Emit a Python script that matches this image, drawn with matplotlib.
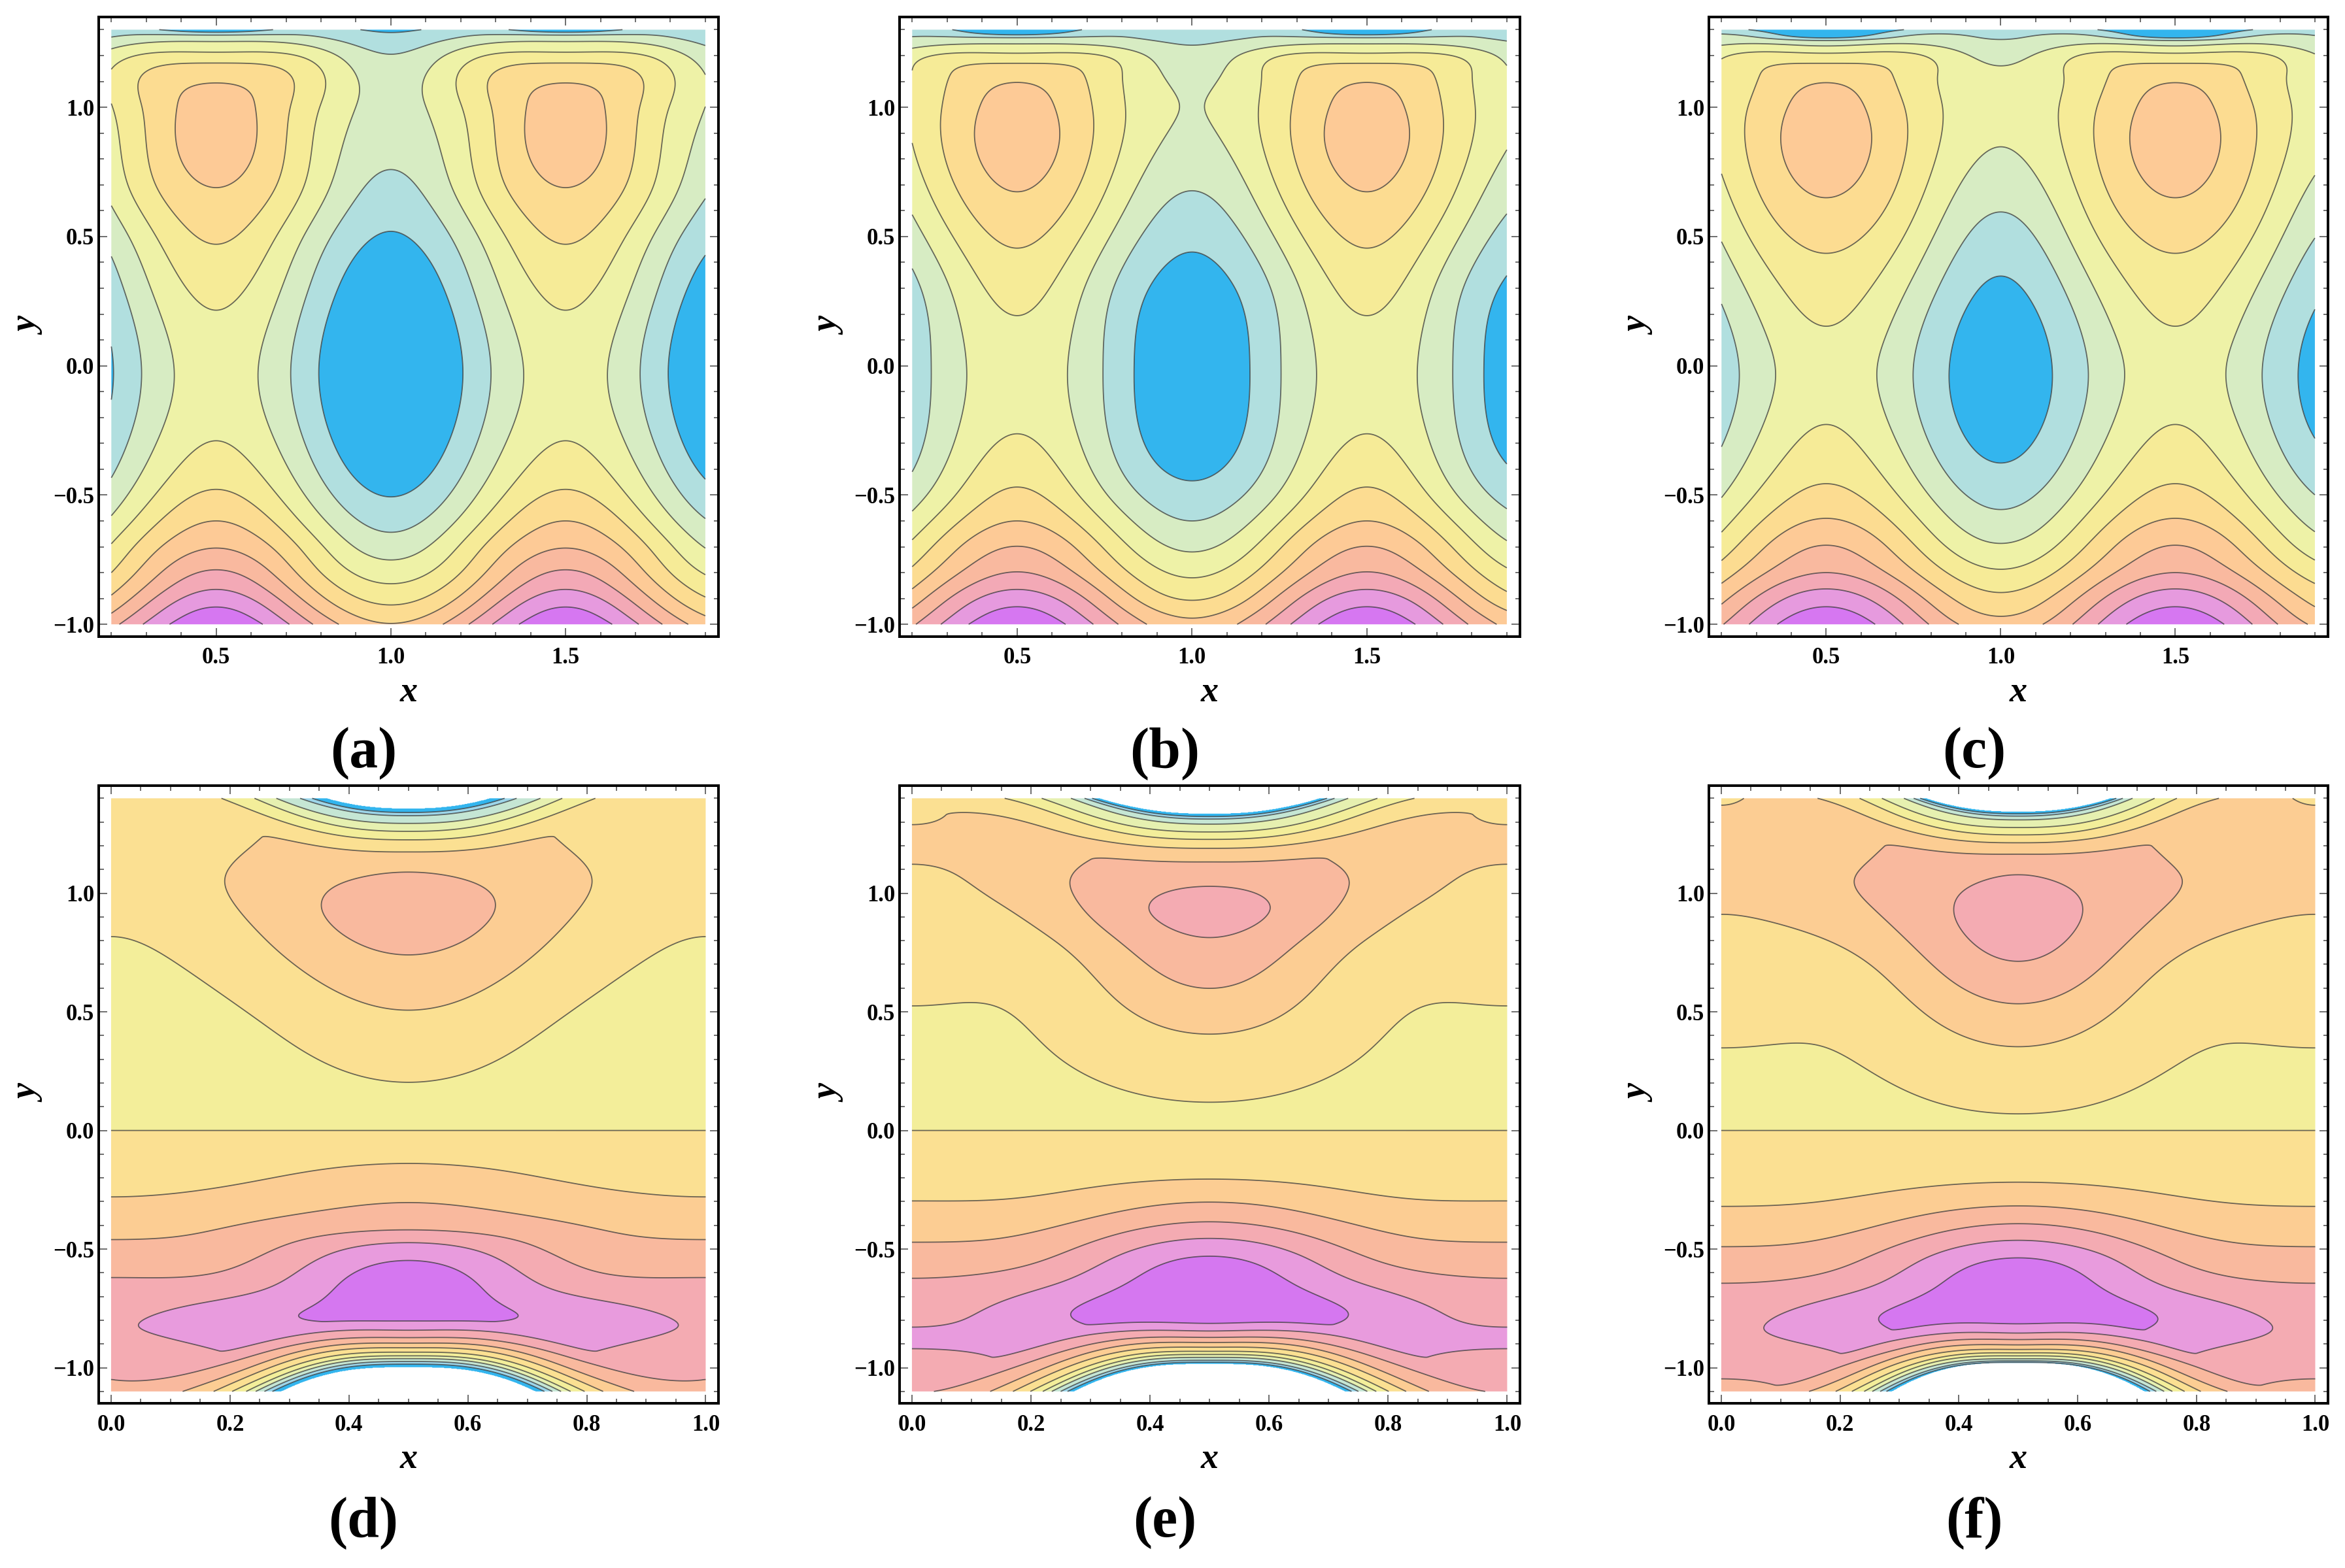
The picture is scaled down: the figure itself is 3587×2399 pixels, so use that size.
import numpy as np
import matplotlib
matplotlib.use("Agg")
import matplotlib.pyplot as plt
from matplotlib.ticker import MultipleLocator, FixedLocator, FuncFormatter

# ---------------- data: contour-level values read along columns ----------------
# level units: region k lies between contour k and k+1 (k = 0..10)
# top row: x in [0.2, 1.9], y in [-1, 1.3]; columns at x=0.5 (mid), x=1.0 (edge), x=0.75 (qtr)
a_mid = [(-1.0, 10.8), (-0.933, 10), (-0.865, 9), (-0.789, 8), (-0.705, 7), (-0.60, 6), (-0.478, 5),
         (-0.29, 4), (0.0, 3.55), (0.215, 4), (0.47, 5), (0.689, 6), (0.90, 6.6), (1.0, 6.45),
         (1.094, 6), (1.171, 5), (1.213, 4), (1.254, 3), (1.279, 2), (1.29, 1), (1.30, 0.4)]
a_edge = [(-1.0, 6.05), (-0.925, 5), (-0.843, 4), (-0.751, 3), (-0.644, 2), (-0.507, 1), (0.0, -0.46),
          (0.52, 1), (0.759, 2), (0.98, 2.6), (1.205, 2), (1.289, 1), (1.30, 0.85)]
a_qtr = [(-1.0, 8.4), (-0.9, 6.9), (-0.8, 5.7), (-0.7, 4.8), (-0.6, 3.85), (-0.5, 3.05), (-0.3, 2.05),
         (0.0, 1.55), (0.3, 2.2), (0.5, 3.0), (0.69, 4.0), (1.0, 4.55), (1.195, 3.95), (1.241, 3.0),
         (1.279, 2.0), (1.30, 1.3)]

b_mid = [(-1.0, 10.8), (-0.932, 10), (-0.865, 9), (-0.797, 8), (-0.698, 7), (-0.60, 6), (-0.469, 5),
         (-0.263, 4), (0.0, 3.6), (0.194, 4), (0.455, 5), (0.673, 6), (0.88, 6.55), (1.0, 6.4),
         (1.096, 6), (1.170, 5), (1.209, 4), (1.245, 3), (1.269, 2), (1.28, 1), (1.30, 0.1)]
b_edge = [(-1.0, 6.3), (-0.976, 6), (-0.907, 5), (-0.82, 4), (-0.72, 3), (-0.60, 2), (-0.445, 1),
          (0.0, 0.0), (0.44, 1), (0.677, 2), (1.03, 2.95), (1.24, 2), (1.30, 1.4)]
b_qtr = [(-1.0, 8.55), (-0.9, 7.2), (-0.8, 5.9), (-0.7, 4.9), (-0.5, 3.1), (-0.3, 2.2), (0.0, 1.95),
         (0.3, 2.3), (0.58, 3.6), (0.95, 4.65), (1.12, 4.5), (1.2, 3.95), (1.237, 3.0), (1.274, 2.0),
         (1.30, 1.35)]

c_mid = [(-1.0, 10.8), (-0.932, 10), (-0.863, 9), (-0.80, 8), (-0.694, 7), (-0.59, 6), (-0.456, 5),
         (-0.227, 4), (0.0, 3.65), (0.153, 4), (0.435, 5), (0.65, 6), (0.87, 6.55), (1.0, 6.4),
         (1.095, 6), (1.17, 5), (1.209, 4), (1.237, 3), (1.258, 2), (1.268, 1), (1.30, -0.1)]
c_edge = [(-1.0, 6.4), (-0.969, 6), (-0.877, 5), (-0.787, 4), (-0.687, 3), (-0.556, 2), (-0.376, 1),
          (0.0, 0.34), (0.347, 1), (0.595, 2), (0.847, 3), (1.0, 3.3), (1.16, 3), (1.262, 2), (1.30, 1.5)]
c_qtr = [(-1.0, 8.6), (-0.9, 7.4), (-0.8, 6.1), (-0.7, 5.1), (-0.5, 3.5), (-0.3, 2.5), (0.0, 2.0),
         (0.3, 2.8), (0.55, 3.9), (0.75, 4.6), (1.0, 4.75), (1.12, 4.55), (1.208, 4.0), (1.245, 3.0),
         (1.279, 2.0), (1.30, 1.15)]

# bottom row: x in [0, 1], y in [-1.1, 1.4]; smooth background columns at x=0.5 (mid), x=0 (edge),
# x=0.25 (qtr), separately above (hi) and below (lo) the line y = 0
d_mid_hi = [(0.0, 4.6), (0.203, 5), (0.507, 6), (0.74, 7), (0.93, 7.5), (1.089, 7), (1.174, 6.75),
            (1.26, 6.4), (1.40, 5.85)]
d_mid_lo = [(-1.10, 8.0), (-0.999, 8.5), (-0.916, 9.2), (-0.842, 9.8), (-0.803, 10.0), (-0.67, 10.6),
            (-0.548, 10), (-0.473, 9), (-0.419, 8), (-0.304, 7), (-0.139, 6), (0.0, 5.4)]
d_edge_hi = [(0.0, 4.2), (0.817, 5), (1.1, 5.35), (1.40, 5.5)]
d_edge_lo = [(-1.10, 8.1), (-1.049, 8.0), (-0.86, 8.9), (-0.62, 8), (-0.46, 7), (-0.28, 6), (0.0, 5.4)]
d_qtr_hi = [(0.0, 4.4), (0.46, 5), (0.83, 6), (1.05, 6.35), (1.2, 6.05), (1.32, 5.9), (1.40, 5.85)]
d_qtr_lo = [(-1.10, 8.6), (-1.0, 8.9), (-0.905, 9.3), (-0.78, 9.8), (-0.676, 9.0), (-0.53, 8),
            (-0.38, 7), (-0.21, 6), (0.0, 5.4)]

e_mid_hi = [(0.0, 4.7), (0.119, 5), (0.406, 6), (0.599, 7), (0.813, 8), (0.93, 8.4), (1.029, 8),
            (1.134, 7.5), (1.20, 7.25), (1.29, 6.7), (1.40, 6.4)]
e_mid_lo = [(-1.10, 9.0), (-0.985, 9.3), (-0.90, 9.8), (-0.815, 10.4), (-0.67, 10.7), (-0.53, 10),
            (-0.455, 9), (-0.385, 8), (-0.302, 7), (-0.205, 6), (0.0, 5.4)]
e_edge_hi = [(0.0, 4.3), (0.525, 5), (1.122, 6), (1.2, 6.15), (1.289, 6.0), (1.40, 5.85)]
e_edge_lo = [(-1.10, 8.9), (-1.0, 8.75), (-0.92, 9.0), (-0.875, 9.2), (-0.829, 9.0), (-0.623, 8),
             (-0.471, 7), (-0.297, 6), (0.0, 5.4)]
e_qtr_hi = [(0.0, 4.5), (0.3, 5), (0.78, 6), (1.05, 6.9), (1.25, 6.6), (1.40, 6.8)]
e_qtr_lo = [(-1.10, 9.0), (-0.98, 9.2), (-0.894, 9.45), (-0.77, 9.9), (-0.64, 9), (-0.52, 8),
            (-0.40, 7), (-0.26, 6), (0.0, 5.4)]

f_mid_hi = [(0.0, 4.8), (0.07, 5), (0.353, 6), (0.534, 7), (0.713, 8), (0.9, 8.4), (1.078, 8.0),
            (1.187, 7.7), (1.30, 7.0), (1.40, 6.6)]
f_mid_lo = [(-1.10, 9.8), (-0.98, 10.2), (-0.90, 10.5), (-0.815, 10.6), (-0.67, 10.7), (-0.537, 10),
            (-0.463, 9), (-0.393, 8), (-0.318, 7), (-0.218, 6), (0.0, 5.4)]
f_edge_hi = [(0.0, 4.4), (0.348, 5), (0.911, 6), (1.15, 6.3), (1.371, 6), (1.40, 5.95)]
f_edge_lo = [(-1.10, 7.7), (-1.047, 8), (-0.85, 8.9), (-0.644, 8), (-0.49, 7), (-0.32, 6), (0.0, 5.4)]
f_qtr_hi = [(0.0, 4.6), (0.25, 5), (0.70, 6), (0.95, 7), (1.05, 7.15), (1.14, 7.0), (1.32, 6.85),
            (1.40, 7.0)]
f_qtr_lo = [(-1.10, 8.8), (-1.0, 9.0), (-0.92, 9.35), (-0.78, 9.9), (-0.66, 9), (-0.53, 8),
            (-0.41, 7), (-0.27, 6), (0.0, 5.4)]

# drop of the bottom-row field towards the edges of its domain (white = undefined):
# value change versus distance (in y) from the edge curve
top_edge_drop = [(0.0, -7.2), (0.018, -5.05), (0.032, -4.1), (0.064, -3.25), (0.097, -2.4),
                 (0.133, -1.55), (0.184, -0.75), (0.269, 0.0), (0.8, 0.0)]
bottom_edge_drop = [(0.0, -9.7), (0.014, -7.6), (0.025, -6.7), (0.037, -5.8), (0.049, -4.9),
                    (0.065, -4.0), (0.083, -3.2), (0.102, -2.4), (0.125, -1.6), (0.157, -0.8),
                    (0.196, 0.0), (0.8, 0.0)]
# edge curves of the domain for (d), (e), (f): apex at x=0.5 and rise/drop towards x=0
top_edge_apex = [1.358, 1.336, 1.345]
top_edge_rise = [0.348, 0.274, 0.345]
bottom_edge_apex = [-0.999, -0.985, -0.980]
bottom_edge_fall = [0.423, 0.411, 0.509]
bottom_edge_spread = 0.9   # widening of the bottom fan of contours towards x = 0

contour_levels = [1, 2, 3, 4, 5, 6, 7, 8, 9, 10]

top_colors = ["#33B5EE", "#B1DFDF", "#D7ECC3", "#EEF2A7", "#F6EB97", "#FCDC91",
              "#FDCA96", "#F9B99F", "#F3A9B6", "#E69ADE", "#D677F1"]
bottom_colors = ["#33B5EE", "#9DD6EA", "#C5E6D4", "#E6F0B0", "#F3EE9A", "#FBE092",
                 "#FCCD93", "#F9B99E", "#F4ABB2", "#E89BDD", "#D577F0"]

top_x_ticks = [0.5, 1.0, 1.5]
bottom_x_ticks = [0.0, 0.2, 0.4, 0.6, 0.8, 1.0]
y_ticks = [-1.0, -0.5, 0.0, 0.5, 1.0]
panel_labels = ["(a)", "(b)", "(c)", "(d)", "(e)", "(f)"]


# ---------------- helpers ----------------
def pchip(xk, yk, xq):
    xk = np.asarray(xk, float)
    yk = np.asarray(yk, float)
    h = np.diff(xk)
    d = np.diff(yk) / h
    n = len(xk)
    m = np.zeros(n)
    for k in range(1, n - 1):
        if d[k - 1] * d[k] > 0:
            w1 = 2 * h[k] + h[k - 1]
            w2 = h[k] + 2 * h[k - 1]
            m[k] = (w1 + w2) / (w1 / d[k - 1] + w2 / d[k])

    def end(h0, h1, d0, d1):
        mm = ((2 * h0 + h1) * d0 - h0 * d1) / (h0 + h1)
        if np.sign(mm) != np.sign(d0):
            mm = 0.0
        elif np.sign(d0) != np.sign(d1) and abs(mm) > abs(3 * d0):
            mm = 3 * d0
        return mm

    m[0] = end(h[0], h[1], d[0], d[1])
    m[-1] = end(h[-1], h[-2], d[-1], d[-2])
    xq = np.asarray(xq, float)
    idx = np.clip(np.searchsorted(xk, xq) - 1, 0, n - 2)
    t = (xq - xk[idx]) / h[idx]
    h00 = 2 * t**3 - 3 * t**2 + 1
    h10 = t**3 - 2 * t**2 + t
    h01 = -2 * t**3 + 3 * t**2
    h11 = t**3 - t**2
    return h00 * yk[idx] + h10 * h[idx] * m[idx] + h01 * yk[idx + 1] + h11 * h[idx] * m[idx + 1]


def spline(xk, yk, xq):
    xk = np.asarray(xk, float)
    yk = np.asarray(yk, float)
    n = len(xk)
    h = np.diff(xk)
    M = np.zeros((n, n))
    rhs = np.zeros(n)
    M[0, 0] = 1.0
    M[-1, -1] = 1.0
    for i in range(1, n - 1):
        M[i, i - 1] = h[i - 1]
        M[i, i] = 2 * (h[i - 1] + h[i])
        M[i, i + 1] = h[i]
        rhs[i] = 6 * ((yk[i + 1] - yk[i]) / h[i] - (yk[i] - yk[i - 1]) / h[i - 1])
    s2 = np.linalg.solve(M, rhs)
    xq = np.asarray(xq, float)
    i = np.clip(np.searchsorted(xk, xq) - 1, 0, n - 2)
    hi = h[i]
    a = xk[i + 1] - xq
    b = xq - xk[i]
    return (s2[i] * a**3 / (6 * hi) + s2[i + 1] * b**3 / (6 * hi)
            + (yk[i] / hi - s2[i] * hi / 6) * a + (yk[i + 1] / hi - s2[i + 1] * hi / 6) * b)


def column(pairs, y):
    arr = np.array(pairs, float)
    return spline(arr[:, 0], arr[:, 1], y)


def field(mid, edge, qtr, x, y):
    A = column(mid, y)
    B = column(edge, y)
    C = column(qtr, y)
    Q = (A - B) / 2
    S = (A + B) / 2
    P = (S + C) / 2
    R = (S - C) / 2
    u = -np.cos(2 * np.pi * x)
    return P[:, None] + Q[:, None] * u[None, :] + R[:, None] * (2 * u[None, :] ** 2 - 1)


def edge_term(pairs, dist):
    arr = np.array(pairs, float)
    dd = np.clip(dist, 0, arr[-1, 0])
    return pchip(arr[:, 0], arr[:, 1], dd)


# ---------------- figure ----------------
W, H = 3587, 2399
DPI = 300
fig = plt.figure(figsize=(W / DPI, H / DPI), dpi=DPI)
FONT = "Liberation Serif"

cols_px = [(151, 1099), (1376, 2325), (2614, 3561)]
rows_px = [(25.5, 973.6), (1202, 2147)]
label_x_px = [556, 1782, 3020]
label_y_px = [1153, 2330]
xlab_y_px = [1060, 2233]


def add_axes_px(l, r, t, b):
    return fig.add_axes([l / W, 1 - b / H, (r - l) / W, (b - t) / H])


line_col = (0.22, 0.22, 0.22, 0.75)


def style_axes(ax, xticks, xminor):
    for s in ax.spines.values():
        s.set_linewidth(0.95)
        s.set_color("black")
    ax.xaxis.set_major_locator(FixedLocator(xticks))
    ax.yaxis.set_major_locator(FixedLocator(y_ticks))
    ax.xaxis.set_minor_locator(MultipleLocator(xminor))
    ax.yaxis.set_minor_locator(MultipleLocator(0.1))
    ax.tick_params(which="both", direction="in", top=True, right=True, color="#555555", width=0.4)
    ax.tick_params(which="major", length=3.2)
    ax.tick_params(which="minor", length=1.8)
    ax.tick_params(axis="x", which="major", pad=4.0, labelsize=8.3)
    ax.tick_params(axis="y", which="major", pad=1.6, labelsize=8.3)
    fmt = FuncFormatter(lambda v, p: ("\u2212" if v < -1e-9 else "") + f"{abs(v):.1f}")
    ax.xaxis.set_major_formatter(fmt)
    ax.yaxis.set_major_formatter(fmt)
    for lab in ax.get_xticklabels() + ax.get_yticklabels():
        lab.set_fontfamily(FONT)
        lab.set_fontweight("bold")


top_sets = [(a_mid, a_edge, a_qtr), (b_mid, b_edge, b_qtr), (c_mid, c_edge, c_qtr)]
bottom_sets = [(d_mid_hi, d_edge_hi, d_qtr_hi, d_mid_lo, d_edge_lo, d_qtr_lo),
               (e_mid_hi, e_edge_hi, e_qtr_hi, e_mid_lo, e_edge_lo, e_qtr_lo),
               (f_mid_hi, f_edge_hi, f_qtr_hi, f_mid_lo, f_edge_lo, f_qtr_lo)]

fill_levels = [-1e6] + contour_levels + [1e6]

# top row
xt = np.linspace(0.2, 1.9, 700)
yt = np.linspace(-1.0, 1.3, 700)
for i, (mid, edge, qtr) in enumerate(top_sets):
    l, r = cols_px[i]
    t, b = rows_px[0]
    ax = add_axes_px(l, r, t, b)
    Z = field(mid, edge, qtr, xt, yt)
    ax.contourf(xt, yt, Z, levels=fill_levels, colors=top_colors, antialiased=True)
    ax.contour(xt, yt, Z, levels=contour_levels, colors=[line_col], linewidths=0.42)
    ax.set_xlim(0.1639, 1.9376)
    ax.set_ylim(-1.0465, 1.3503)
    style_axes(ax, top_x_ticks, 0.1)

# bottom row
xb = np.linspace(0.0, 1.0, 900)
yb_lo = np.linspace(-1.1, -1e-4, 550)
yb_hi = np.linspace(1e-4, 1.4, 650)
yb = np.concatenate([yb_lo, yb_hi])
s_shape = np.cos(np.pi * xb) ** 2
for i, (mh, eh, qh, ml, el, ql) in enumerate(bottom_sets):
    l, r = cols_px[i]
    t, b = rows_px[1]
    ax = add_axes_px(l, r, t, b)
    Z = np.vstack([field(ml, el, ql, xb, yb_lo), field(mh, eh, qh, xb, yb_hi)])
    y_top_edge = top_edge_apex[i] + top_edge_rise[i] * s_shape ** 1.2
    y_bot_edge = bottom_edge_apex[i] - bottom_edge_fall[i] * s_shape ** 1.5
    dt = y_top_edge[None, :] - yb[:, None]
    db = yb[:, None] - y_bot_edge[None, :]
    spread = 1.0 + bottom_edge_spread * s_shape
    Z = Z + edge_term(top_edge_drop, dt) + edge_term(bottom_edge_drop, db / spread[None, :])
    Zm = np.ma.masked_where((dt < 0) | (db < 0), Z)
    ax.contourf(xb, yb, Zm, levels=fill_levels, colors=bottom_colors, antialiased=True)
    ax.contour(xb, yb, Zm, levels=contour_levels, colors=[line_col], linewidths=0.42)
    ax.set_xlim(-0.0208, 1.0215)
    ax.set_ylim(-1.150, 1.4534)
    style_axes(ax, bottom_x_ticks, 0.05)

# axis labels and panel labels
for row in range(2):
    for i in range(3):
        l, r = cols_px[i]
        t, b = rows_px[row]
        fig.text(((l + r) / 2) / W, 1 - xlab_y_px[row] / H, "x", ha="center", va="center",
                 fontfamily=FONT, fontweight="bold", fontstyle="italic", fontsize=13)
        fig.text((l - 106) / W, 1 - ((t + b) / 2) / H, "y", ha="center", va="center", rotation=90,
                 fontfamily=FONT, fontweight="bold", fontstyle="italic", fontsize=13)
        fig.text(label_x_px[i] / W, 1 - label_y_px[row] / H, panel_labels[row * 3 + i],
                 ha="center", va="center", fontfamily=FONT, fontweight="bold", fontsize=21)

fig.savefig("out.png", dpi=DPI)
